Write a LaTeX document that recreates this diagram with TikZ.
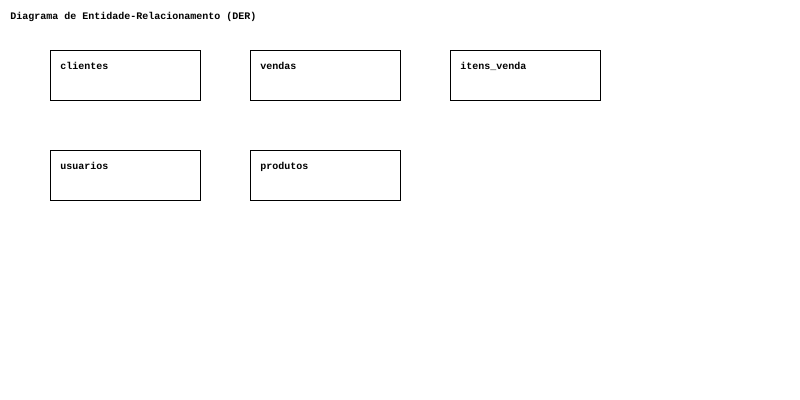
\documentclass[tikz,border=0pt]{standalone}
\usepackage{fontspec}
\setmonofont{Liberation Mono}
\begin{document}
\begin{tikzpicture}[x=0.75pt,y=-0.75pt,
  entity/.style={draw=black,line width=0.75pt,minimum width=112.5pt,minimum height=37.5pt,inner sep=0pt,anchor=north west},
  lbl/.style={font=\ttfamily\bfseries\fontsize{7.5pt}{9pt}\selectfont,anchor=base west,inner sep=0pt}]
\useasboundingbox (0,0) rectangle (800,400);
\node[lbl] (title) at (10,19) {Diagrama de Entidade-Relacionamento (DER)};
\node[entity] (clientes) at (50,50) {};
\node[entity] (vendas) at (250,50) {};
\node[entity] (itens) at (450,50) {};
\node[entity] (usuarios) at (50,150) {};
\node[entity] (produtos) at (250,150) {};
\node[lbl] (lc) at (60,69) {clientes};
\node[lbl] (lv) at (260,69) {vendas};
\node[lbl] (li) at (460,69) {itens\_venda};
\node[lbl] (lu) at (60,169) {usuarios};
\node[lbl] (lp) at (260,169) {produtos};
\end{tikzpicture}
\end{document}
